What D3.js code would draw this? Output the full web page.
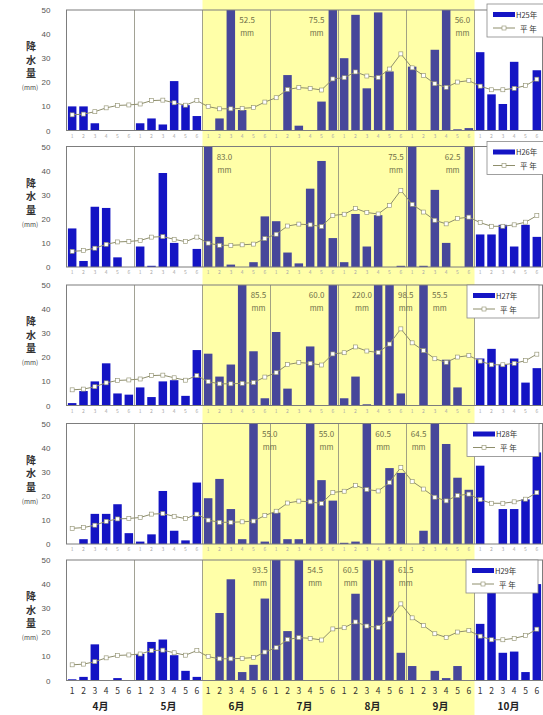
<!DOCTYPE html>
<html>
<head>
<meta charset="utf-8">
<script src="https://cdn.jsdelivr.net/npm/d3@7"></script>
<style>
  html, body { margin: 0; padding: 0; background: #fff; }
  svg { display: block; }
  text { font-family: "Noto Sans CJK JP", "Noto Sans", sans-serif; }
</style>
</head>
<body>
<svg id="chart" width="543" height="715"></svg>
<script>
// ---- data: pentad (半旬) precipitation, April–October ----
const months  = ["4月", "5月", "6月", "7月", "8月", "9月", "10月"];
const pentads = ["1", "2", "3", "4", "5", "6"];
const years   = ["H25年", "H26年", "H27年", "H28年", "H29年"];
const yTicks  = [0, 10, 20, 30, 40, 50];

const rainH25 = [10, 10, 3, 0, 0, 0,   3, 5, 2.5, 20.5, 10.5, 6,
                 0, 5, 52.5, 8.5, 0, 0,  0, 23, 2, 0, 12, 75.5,
                 30, 48, 17.5, 49, 24.5, 0,  26.5, 0, 33.5, 56.0, 0.5, 1,
                 32.5, 15, 11, 28.5, 0, 25];
const rainH26 = [16, 2.5, 25, 24.5, 4, 0,   8.5, 0.5, 39, 10, 0, 7.5,
                 83.0, 12.5, 1, 0, 2, 21,   19, 6, 1.5, 32.5, 44, 12,
                 2, 22, 8.5, 21.5, 0, 0.5,  75.5, 0.5, 32, 10, 0, 62.5,
                 13.5, 13.5, 17.5, 8.5, 17.5, 12.5];
const rainH27 = [1, 6, 10, 17.5, 5, 4.5,   7.5, 3.5, 10, 10.5, 4, 23,
                 21.5, 12, 17, 85.5, 22.5, 3,  30.5, 7, 0, 24.5, 0, 60.0,
                 3, 12, 0.5, 220.0, 98.5, 5,  0, 55.5, 0, 19, 7.5, 0,
                 19.5, 23.5, 17, 19.5, 9.5, 15.5];
const rainH28 = [0, 2, 12.5, 12.5, 16.5, 4.5,  1, 4, 22, 5.5, 1.5, 25.5,
                 19, 27, 14.5, 2, 55.0, 1,   13, 2, 2, 55.0, 26.5, 18,
                 0.5, 1, 60.5, 0, 31.5, 29.5,  0, 5.5, 64.5, 41.5, 27.5, 22.5,
                 32.5, 0, 14.5, 14.5, 18.5, 38];
const rainH29 = [0.5, 1.5, 15, 0, 1, 0,   11, 16, 17, 10.5, 4, 1.5,
                 0, 28, 42, 3.5, 6.5, 34,   93.5, 20.5, 54.5, 0, 0, 0,
                 0, 36, 60.5, 50, 61.5, 11.5,  6, 0, 4, 1, 6, 0,
                 23.5, 40, 11.5, 12, 3.5, 40];
const normal  = [6.5, 6.8, 7.8, 9.4, 10.4, 10.6,   11.0, 12.4, 12.6, 11.5, 10.5, 12.4,
                 9.9, 9.0, 9.0, 9.2, 9.5, 11.8,    13.6, 17.0, 17.8, 17.5, 16.8, 21.4,
                 21.9, 24.3, 22.6, 22.0, 25.5, 31.8,  26.0, 22.8, 19.4, 17.9, 20.1, 20.7,
                 18.4, 16.9, 16.9, 17.5, 18.6, 21.3];
const series = [rainH25, rainH26, rainH27, rainH28, rainH29];

// ---- layout ----
const W = 543, H = 715;
const plotLeft = 66.5, plotRight = 542.5, plotH = 120.5;
const panelTops = [10, 146.5, 285, 423.5, 560];
const legendX   = [487, 487, 467, 467, 466];
const legendDy  = [-6, -5, 0, 0, 0];
// which side of an off-scale bar its value note sits on (in bar order)
const noteSide  = [["r", "l", "r"], ["r", "l", "l"], ["r", "l", "l", "r", "r"],
                   ["r", "r", "r", "l"], ["l", "r", "l", "r"]];

const yMax = 50;
const barBright = "#1414c4", barDim = "#47479a";
const bandFill = "#ffffa8", lineCol = "#8e8e6c", noteCol = "#6f6f48";

const svg = d3.select("#chart");
const idx = d3.range(months.length * pentads.length);

const x = d3.scaleBand().domain(idx).range([plotLeft, plotRight])
  .paddingInner(0.25).paddingOuter(0.125);
const mx = d3.scaleBand().domain(months).range([plotLeft, plotRight]);
const cx = i => x(i) + x.bandwidth() / 2;
const inSeason = i => i >= 12 && i < 36;

svg.append("rect").attr("width", W).attr("height", H).attr("fill", "#fff");
// June–September band across the whole figure
svg.append("rect")
  .attr("x", mx("6月")).attr("y", 0)
  .attr("width", mx("10月") - mx("6月")).attr("height", H)
  .attr("fill", bandFill);

series.forEach((vals, p) => {
  const top = panelTops[p];
  const y = d3.scaleLinear().domain([0, yMax]).range([top + plotH, top]);
  const g = svg.append("g");

  // month separators
  g.selectAll("line.mon").data(months.slice(1)).join("line")
    .attr("x1", m => mx(m)).attr("x2", m => mx(m))
    .attr("y1", top).attr("y2", top + plotH)
    .attr("stroke", "#8a8a7a").attr("stroke-width", 0.8);

  // bars
  g.selectAll("rect.bar").data(vals).join("rect")
    .attr("x", (d, i) => x(i))
    .attr("width", x.bandwidth())
    .attr("y", d => y(Math.min(d, yMax)))
    .attr("height", d => y(0) - y(Math.min(d, yMax)))
    .attr("fill", (d, i) => inSeason(i) ? barDim : barBright);

  // normal line + markers
  g.append("path").datum(normal)
    .attr("d", d3.line().x((d, i) => cx(i)).y(d => y(d)))
    .attr("fill", "none").attr("stroke", lineCol).attr("stroke-width", 1);
  g.selectAll("rect.mk").data(normal).join("rect")
    .attr("x", (d, i) => cx(i) - 2).attr("y", d => y(d) - 2)
    .attr("width", 4).attr("height", 4)
    .attr("fill", "#fff").attr("stroke", lineCol).attr("stroke-width", 0.6);

  // frame
  g.append("rect").attr("x", plotLeft).attr("y", top)
    .attr("width", plotRight - plotLeft).attr("height", plotH)
    .attr("fill", "none").attr("stroke", "#7d7d7d").attr("stroke-width", 1);

  // y axis
  const ax = g.append("g").attr("transform", `translate(${plotLeft},0)`)
    .call(d3.axisLeft(y).tickValues(yTicks).tickSize(0).tickPadding(16));
  ax.select(".domain").remove();
  ax.selectAll("text").attr("font-size", 8).attr("fill", "#555")
    .style("font-family", "'Liberation Sans', sans-serif");

  // y title
  ["降", "水", "量"].forEach((c, k) => {
    g.append("text").attr("x", 31).attr("y", top + 40 + k * 13.5)
      .attr("text-anchor", "middle").attr("font-size", 10).attr("font-weight", "bold")
      .attr("fill", "#333").text(c);
  });
  g.append("text").attr("x", 30).attr("y", top + 80)
    .attr("text-anchor", "middle").attr("font-size", 6.5).attr("fill", "#444").text("(mm)");

  // values of bars that run past the top of the scale
  let k = 0;
  vals.forEach((v, i) => {
    if (v <= yMax) return;
    const side = noteSide[p][k++];
    const tx = side === "r" ? x(i) + x.bandwidth() + 12 : x(i) - 12;
    g.append("text").attr("x", tx).attr("y", top + 13)
      .attr("text-anchor", "middle").attr("font-size", 8).attr("fill", noteCol)
      .text(v.toFixed(1));
    g.append("text").attr("x", tx).attr("y", top + 26)
      .attr("text-anchor", "middle").attr("font-size", 7.5).attr("fill", noteCol)
      .text("mm");
  });

  // pentad numbers
  const last = p === series.length - 1;
  g.selectAll("text.pt").data(idx).join("text")
    .attr("x", i => cx(i))
    .attr("y", top + plotH + (last ? 13 : 7))
    .attr("text-anchor", "middle")
    .attr("font-size", last ? 8.5 : 5)
    .attr("fill", last ? "#333" : "#aaa")
    .text(i => pentads[i % pentads.length]);
  if (last) {
    g.selectAll("text.mo").data(months).join("text")
      .attr("x", m => mx(m) + mx.bandwidth() / 2)
      .attr("y", top + plotH + 29)
      .attr("text-anchor", "middle").attr("font-size", 10).attr("font-weight", "bold")
      .attr("fill", "#222").text(m => m);
  }

  // legend
  const lx = legendX[p], ly = top + legendDy[p];
  const lg = g.append("g").attr("transform", `translate(${lx},${ly})`);
  lg.append("rect").attr("width", 72).attr("height", 33)
    .attr("fill", "#fff").attr("stroke", "#888").attr("stroke-width", 0.8);
  lg.append("rect").attr("x", 6).attr("y", 8).attr("width", 22).attr("height", 5)
    .attr("fill", barBright);
  lg.append("text").attr("x", 29).attr("y", 13.5).attr("font-size", 7.5).attr("fill", "#333")
    .text(years[p]);
  lg.append("line").attr("x1", 6).attr("x2", 28).attr("y1", 24).attr("y2", 24)
    .attr("stroke", lineCol).attr("stroke-width", 1);
  lg.append("rect").attr("x", 15).attr("y", 22).attr("width", 4).attr("height", 4)
    .attr("fill", "#fff").attr("stroke", lineCol).attr("stroke-width", 0.6);
  lg.append("text").attr("x", 33).attr("y", 27.5).attr("font-size", 7.5).attr("fill", "#333")
    .text("平 年");
});
</script>
</body>
</html>
